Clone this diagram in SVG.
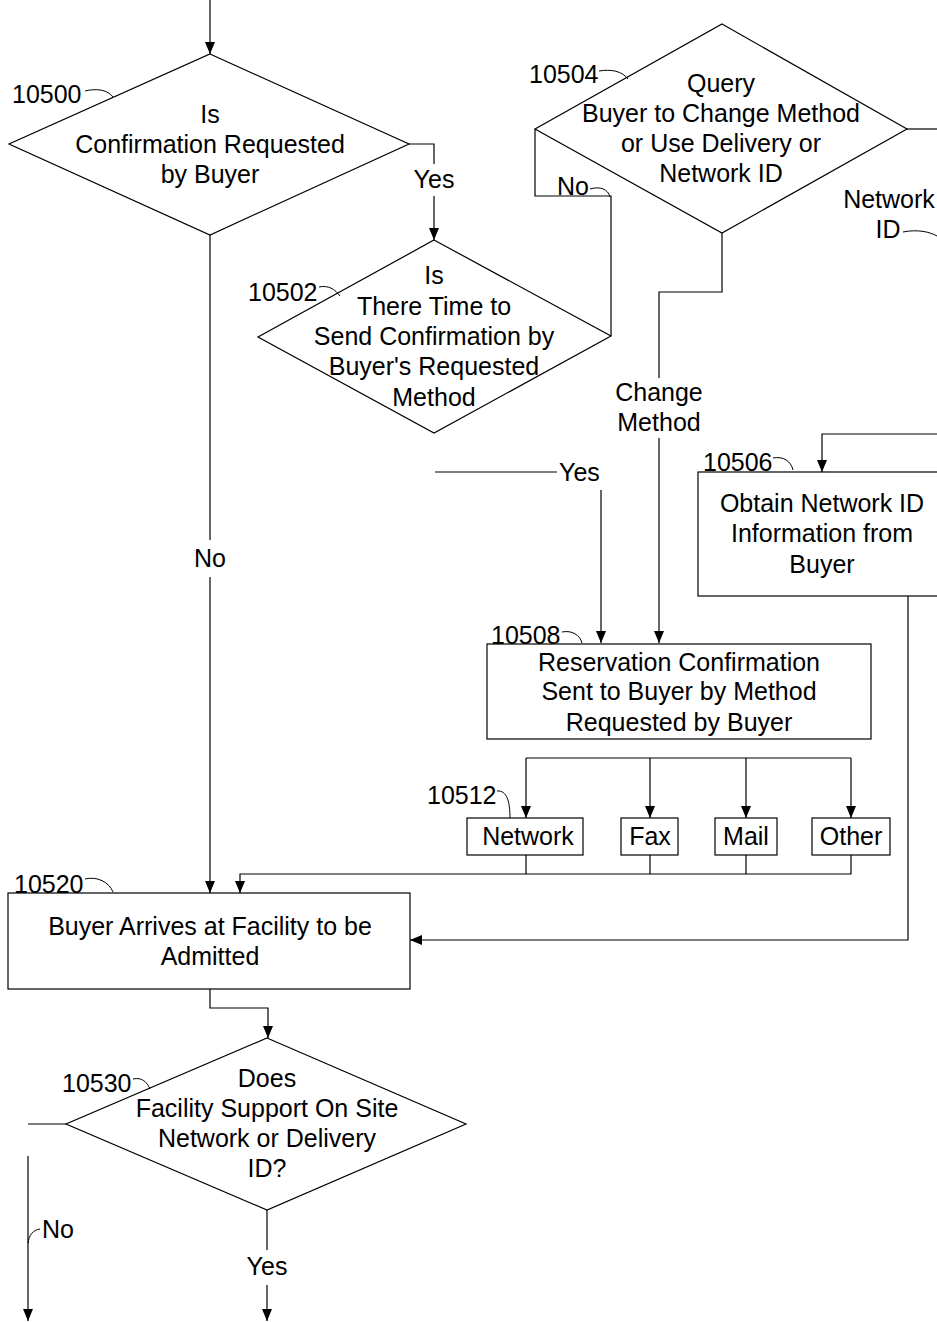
<svg xmlns="http://www.w3.org/2000/svg" width="937" height="1322" viewBox="0 0 937 1322">
<defs>
<marker id="ah" viewBox="0 0 12 10" refX="12" refY="5" markerWidth="12" markerHeight="11" orient="auto" markerUnits="userSpaceOnUse"><path d="M0,0 L12,5 L0,10 z" fill="#000"/></marker>
<style>
.s{fill:#fff;stroke:#000;stroke-width:1.2}
.c{fill:none;stroke:#000;stroke-width:1.2}
.a{fill:none;stroke:#000;stroke-width:1.2;marker-end:url(#ah)}
.ld{fill:none;stroke:#000;stroke-width:1}
text{font-family:"Liberation Sans",Arial,sans-serif;font-size:25px;fill:#000}
.m{text-anchor:middle}
.n{font-size:25px}
</style>
</defs>
<rect width="937" height="1322" fill="#fff"/>
<g id="connectors">
<path class="a" d="M210,0 V54"/>
<path class="c" d="M409,144 H434 V164"/>
<path class="a" d="M434,196 V240"/>
<path class="c" d="M210,235 V540"/>
<path class="a" d="M210,577 V893"/>
<path class="c" d="M611,336 V196 H535 V129"/>
<path class="c" d="M907,129 H937"/>
<path class="c" d="M722,233 V292 H659 V378"/>
<path class="a" d="M659,438 V643"/>
<path class="c" d="M435,472 H557"/>
<path class="a" d="M601,490 V643"/>
<path class="a" d="M937,434 H822 V472"/>
<path class="a" d="M908,596 V940 H410"/>
<path class="c" d="M526,758 H851"/>
<path class="a" d="M526,758 V818"/>
<path class="a" d="M650,758 V818"/>
<path class="a" d="M746,758 V818"/>
<path class="a" d="M851,758 V818"/>
<path class="c" d="M526,855 V874 M650,855 V874 M746,855 V874"/>
<path class="a" d="M851,855 V874 H240 V893"/>
<path class="a" d="M210,989 V1008 H268 V1038"/>
<path class="c" d="M66,1124 H28"/>
<path class="a" d="M28,1156 V1321"/>
<path class="c" d="M267,1210 V1250"/>
<path class="a" d="M267,1285 V1321"/>
<text class="m" x="434" y="188">Yes</text>
<text class="m" x="210" y="567">No</text>
<text x="557" y="195">No</text>
<path class="ld" d="M590,189 C600,186 608,189 610,197"/>
<text class="m" x="659" y="401">Change</text>
<text class="m" x="659" y="431">Method</text>
<text class="m" x="889" y="208">Network</text>
<text class="m" x="888" y="238">ID</text>
<path class="ld" d="M903,232 C918,229 930,232 937,236"/>
<text x="559" y="481">Yes</text>
<text x="42" y="1238">No</text>
<path class="ld" d="M40,1229 C33,1230 29,1235 28,1243"/>
<text class="m" x="267" y="1275">Yes</text>
</g>
<g id="n10500">
<polygon class="s" points="210,54 409,144 210,235 9,144"/>
<text class="m" x="210" y="123">Is</text>
<text class="m" x="210" y="153">Confirmation Requested</text>
<text class="m" x="210" y="183">by Buyer</text>
<text class="n" x="12" y="103">10500</text>
<path class="ld" d="M85,91 C97,88 108,90 113,97"/>
</g>
<g id="n10504">
<polygon class="s" points="722,24 907,129 722,233 535,129"/>
<text class="m" x="721" y="92">Query</text>
<text class="m" x="721" y="122">Buyer to Change Method</text>
<text class="m" x="721" y="152">or Use Delivery or</text>
<text class="m" x="721" y="182">Network ID</text>
<text class="n" x="529" y="83">10504</text>
<path class="ld" d="M599,71 C611,69 622,71 628,79"/>
</g>
<g id="n10502">
<polygon class="s" points="434,240 611,336 434,433 258,337"/>
<text class="m" x="434" y="284">Is</text>
<text class="m" x="434" y="315">There Time to</text>
<text class="m" x="434" y="345">Send Confirmation by</text>
<text class="m" x="434" y="375">Buyer's Requested</text>
<text class="m" x="434" y="406">Method</text>
<text class="n" x="248" y="301">10502</text>
<path class="ld" d="M319,287 C328,285 335,289 340,296"/>
</g>
<g id="n10506">
<rect class="s" x="698" y="472" width="250" height="124"/>
<text class="m" x="822" y="512">Obtain Network ID</text>
<text class="m" x="822" y="542">Information from</text>
<text class="m" x="822" y="573">Buyer</text>
<text class="n" x="703" y="471">10506</text>
<path class="ld" d="M773,458 C783,456 791,461 793,470"/>
</g>
<g id="n10508">
<rect class="s" x="487" y="644" width="384" height="95"/>
<text class="m" x="679" y="671">Reservation Confirmation</text>
<text class="m" x="679" y="700">Sent to Buyer by Method</text>
<text class="m" x="679" y="731">Requested by Buyer</text>
<text class="n" x="491" y="644">10508</text>
<path class="ld" d="M562,632 C572,630 580,635 582,643"/>
</g>
<g id="n10512">
<rect class="s" x="467" y="818" width="116" height="37"/>
<text class="m" x="528" y="845">Network</text>
<text class="n" x="427" y="804">10512</text>
<path class="ld" d="M497,791 C507,790 510,802 510,818"/>
</g>
<g id="nfax">
<rect class="s" x="621" y="818" width="57" height="37"/>
<text class="m" x="650" y="845">Fax</text>
</g>
<g id="nmail">
<rect class="s" x="715" y="818" width="62" height="37"/>
<text class="m" x="746" y="845">Mail</text>
</g>
<g id="nother">
<rect class="s" x="812" y="818" width="78" height="37"/>
<text class="m" x="851" y="845">Other</text>
</g>
<g id="n10520">
<rect class="s" x="8" y="893" width="402" height="96"/>
<text class="m" x="210" y="935">Buyer Arrives at Facility to be</text>
<text class="m" x="210" y="965">Admitted</text>
<text class="n" x="14" y="893">10520</text>
<path class="ld" d="M85,879 C97,876 109,882 113,892"/>
</g>
<g id="n10530">
<polygon class="s" points="267,1038 466,1124 267,1210 66,1124"/>
<text class="m" x="267" y="1087">Does</text>
<text class="m" x="267" y="1117">Facility Support On Site</text>
<text class="m" x="267" y="1147">Network or Delivery</text>
<text class="m" x="267" y="1177">ID?</text>
<text class="n" x="62" y="1092">10530</text>
<path class="ld" d="M133,1079 C142,1077 147,1082 150,1089"/>
</g>
</svg>
